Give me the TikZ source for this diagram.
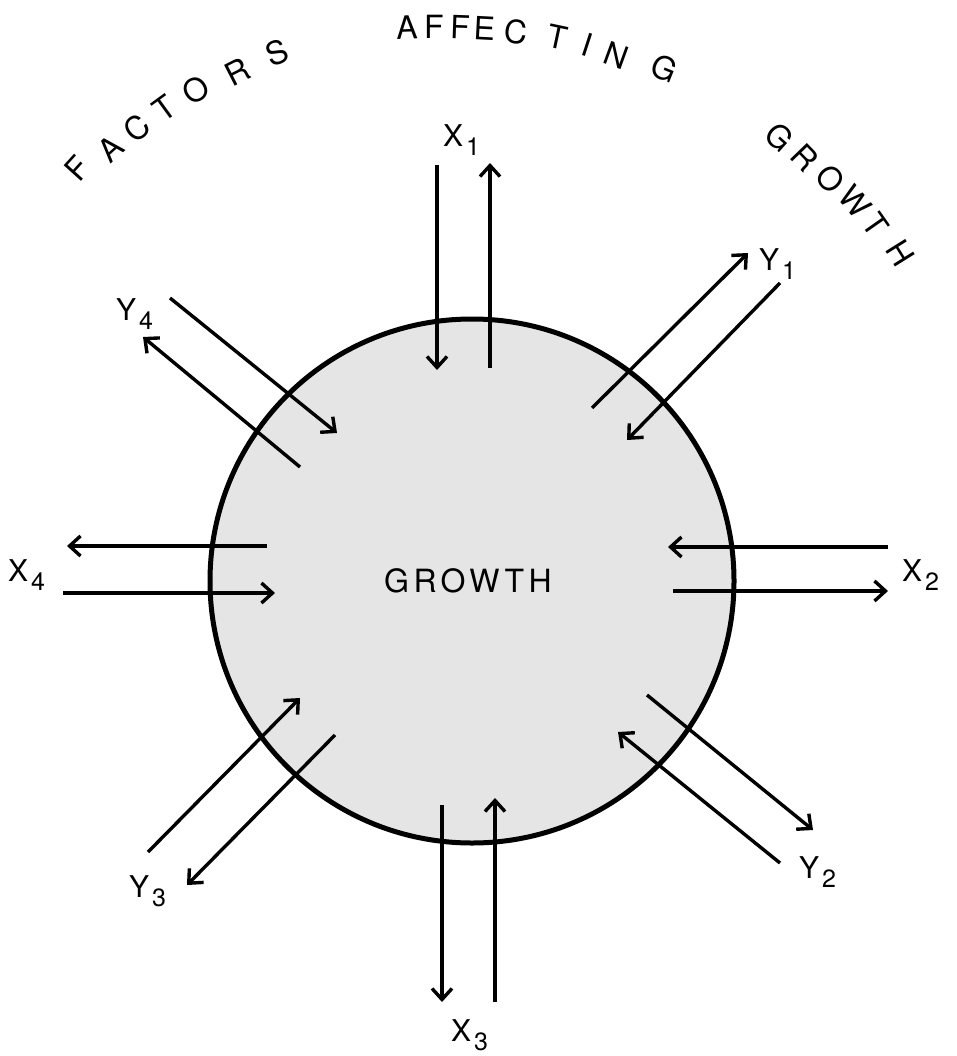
\documentclass[tikz,border=0pt]{standalone}
\usepackage{fontspec}
\setmainfont{TeX Gyre Heros}
\usetikzlibrary{arrows.meta}
\newcommand{\lbl}[2]{#1\kern3pt\raisebox{-9pt}{\fontsize{25}{25}\selectfont #2}}
\tikzset{
  flow/.style={line width=3.4pt, -{Straight Barb[length=11pt,width=20pt,line width=3.4pt]}},
  lab/.style={anchor=base west, inner sep=0pt, font=\fontsize{30}{30}\selectfont},
  ttl/.style={inner sep=0pt, font=\fontsize{32}{32}\selectfont},
  body/.style={fill=black!10, draw=black, line width=5pt}
}
\begin{document}
\begin{tikzpicture}[x=1pt,y=-1pt]
\useasboundingbox (0,0) rectangle (956,1056);
\fill[white] (0,0) rectangle (956,1056);
% the growth body
\node[body, circle, minimum size=524pt, inner sep=0pt] (g) at (472,581) {};
\node[inner sep=0pt, font=\fontsize{32}{32}\selectfont\addfontfeature{LetterSpace=14}] (gt) at (468,581) {GROWTH};
% endpoints
\coordinate (x1as) at (437,165); \coordinate (x1at) at (437,370);
\coordinate (x1bs) at (490,368); \coordinate (x1bt) at (490,163);
\coordinate (y1as) at (592,408); \coordinate (y1at) at (748,253);
\coordinate (y1bs) at (780,283); \coordinate (y1bt) at (627,440);
\coordinate (x2as) at (888,547); \coordinate (x2at) at (668,547);
\coordinate (x2bs) at (673,591); \coordinate (x2bt) at (888,591);
\coordinate (y2as) at (647,695); \coordinate (y2at) at (813,830);
\coordinate (y2bs) at (780,863); \coordinate (y2bt) at (618,732);
\coordinate (x3as) at (442,805); \coordinate (x3at) at (442,1002);
\coordinate (x3bs) at (495,1002); \coordinate (x3bt) at (495,798);
\coordinate (y3as) at (148,852); \coordinate (y3at) at (300,698);
\coordinate (y3bs) at (335,735); \coordinate (y3bt) at (187,885);
\coordinate (x4as) at (267,546); \coordinate (x4at) at (67,546);
\coordinate (x4bs) at (63,593); \coordinate (x4bt) at (275,593);
\coordinate (y4as) at (170,298); \coordinate (y4at) at (337,433);
\coordinate (y4bs) at (300,467); \coordinate (y4bt) at (143,337);
\foreach \a in {x1a,x1b,y1a,y1b,x2a,x2b,y2a,y2b,x3a,x3b,y3a,y3b,x4a,x4b,y4a,y4b}
  \draw[flow] (\a s) -- (\a t);
% labels
\node[lab] (lx1) at (443,147) {\lbl{X}{1}};
\node[lab] (ly1) at (759,271) {\lbl{Y}{1}};
\node[lab] (lx2) at (902,581) {\lbl{X}{2}};
\node[lab] (ly2) at (799,878) {\lbl{Y}{2}};
\node[lab] (lx3) at (451,1041) {\lbl{X}{3}};
\node[lab] (ly3) at (129,897) {\lbl{Y}{3}};
\node[lab] (lx4) at (8,581) {\lbl{X}{4}};
\node[lab] (ly4) at (116,320) {\lbl{Y}{4}};
% title along the arc
\foreach \c/\x/\y/\r [count=\i] in {F/77/168/48, A/111/149/42, C/137/128/40, T/165/108/36, O/196/90/32, R/237/72/27, S/277/53/22,
  A/407/27/2, F/434/27/0, F/460/27/-2, E/485/28/-3, C/516/32/-5, T/557/37/-12, I/587/45/-18, N/616/55/-20, G/664/68/-22,
  G/780/137/-42, R/805/158/-46, O/830/179/-48, W/855/202/-50, T/876/225/-55, H/900/253/-58}
  \node[ttl, rotate=\r] (t\i) at (\x,\y) {\c};
\end{tikzpicture}
\end{document}
